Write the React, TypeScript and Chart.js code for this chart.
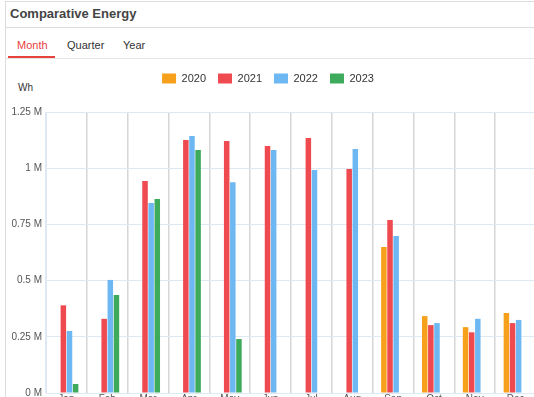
import React, { useEffect, useRef } from "react";
import { Chart, registerables } from "chart.js";

Chart.register(...registerables);

const months = ["Jan", "Feb", "Mar", "Apr", "May", "Jun", "Jul", "Aug", "Sep", "Oct", "Nov", "Dec"];
const years = ["2020", "2021", "2022", "2023"];
const values2020 = [null, null, null, null, null, null, null, null, 649000, 342000, 293000, 356000];
const values2021 = [390000, 330000, 943000, 1125000, 1121000, 1099000, 1134000, 996000, 770000, 302000, 270000, 311000];
const values2022 = [276000, 503000, 845000, 1143000, 938000, 1081000, 992000, 1085000, 698000, 311000, 330000, 325000];
const values2023 = [40000, 436000, 863000, 1081000, 240000, null, null, null, null, null, null, null];
const yTicks = [0, 250000, 500000, 750000, 1000000, 1250000];
const colors = ["#f7a01c", "#ef4a4f", "#6db8f2", "#3eaa5c"];

export default function App() {
  const ref = useRef<HTMLCanvasElement | null>(null);
  useEffect(() => {
    document.body.style.margin = "0";
    const series = [values2020, values2021, values2022, values2023];
    const chart = new Chart(ref.current as HTMLCanvasElement, {
      type: "bar",
      data: {
        labels: months,
        datasets: years.map((y, i) => ({
          label: y,
          data: series[i],
          backgroundColor: colors[i],
          borderWidth: 0,
          categoryPercentage: 0.6,
          barPercentage: 0.9,
        })),
      },
      options: {
        animation: false,
        responsive: false,
        maintainAspectRatio: false,
        layout: { padding: { top: 1, right: 8, left: 0, bottom: 0 } },
        plugins: {
          tooltip: { enabled: false },
          legend: {
            position: "top",
            labels: {
              boxWidth: 14,
              boxHeight: 10,
              padding: 12,
              color: "#333",
              font: { family: "Liberation Sans", size: 11 },
            },
          },
        },
        scales: {
          x: {
            grid: {
              drawTicks: false,
              lineWidth: 1.5,
              color: (ctx: any) => (ctx.index === 0 ? "#dfe9f3" : "#d6d6d6"),
            },
            border: { color: "#dfe9f3" },
            ticks: { padding: 0, color: "#555", font: { family: "Liberation Sans", size: 10 } },
          },
          y: {
            min: 0,
            max: 1250000,
            afterBuildTicks: (s: any) => {
              s.ticks = yTicks.map((v) => ({ value: v }));
            },
            afterFit: (s: any) => {
              s.width = 46;
            },
            grid: { drawTicks: false, color: "#dfe9f3", lineWidth: 1 },
            border: { color: "#dfe9f3" },
            ticks: {
              padding: 4,
              color: "#555",
              font: { family: "Liberation Sans", size: 10 },
              callback: (v: any) => Number(v) / 1000000 + " M",
            },
          },
        },
      },
      plugins: [
        {
          id: "legendMargin",
          beforeInit(c: any) {
            const orig = c.legend.fit;
            c.legend.fit = function () {
              orig.bind(c.legend)();
              this.height += 18;
            };
          },
        },
      ],
    } as any);
    return () => chart.destroy();
  }, []);

  const font = "'Liberation Sans', Arial, sans-serif";
  return (
    <div
      style={{
        position: "fixed",
        left: 0,
        top: 0,
        width: 534,
        height: 397,
        overflow: "hidden",
        background: "#fff",
        fontFamily: font,
      }}
    >
      <div style={{ position: "absolute", left: 5, top: 1, width: 600, height: 500, border: "1px solid #dcdcdc" }} />
      <div style={{ position: "absolute", left: 5, top: 27, width: 600, height: 1, background: "#dcdcdc" }} />
      <div style={{ position: "absolute", left: 5, top: 58, width: 600, height: 1, background: "#e4e4e4" }} />
      <div style={{ position: "absolute", left: 10, top: 6, fontSize: 13, fontWeight: "bold", color: "#444" }}>
        Comparative Energy
      </div>
      <div style={{ position: "absolute", left: 17, top: 39, fontSize: 11, color: "#e8423f" }}>Month</div>
      <div style={{ position: "absolute", left: 8, top: 56, width: 47, height: 2, background: "#e8423f" }} />
      <div style={{ position: "absolute", left: 67, top: 39, fontSize: 11, color: "#333" }}>Quarter</div>
      <div style={{ position: "absolute", left: 123, top: 39, fontSize: 11, color: "#333" }}>Year</div>
      <div style={{ position: "absolute", left: 18, top: 82, fontSize: 10, color: "#333" }}>Wh</div>
      <canvas
        ref={ref}
        width={544}
        height={345}
        style={{ position: "absolute", left: 0, top: 60, width: 544, height: 345 }}
      />
    </div>
  );
}
